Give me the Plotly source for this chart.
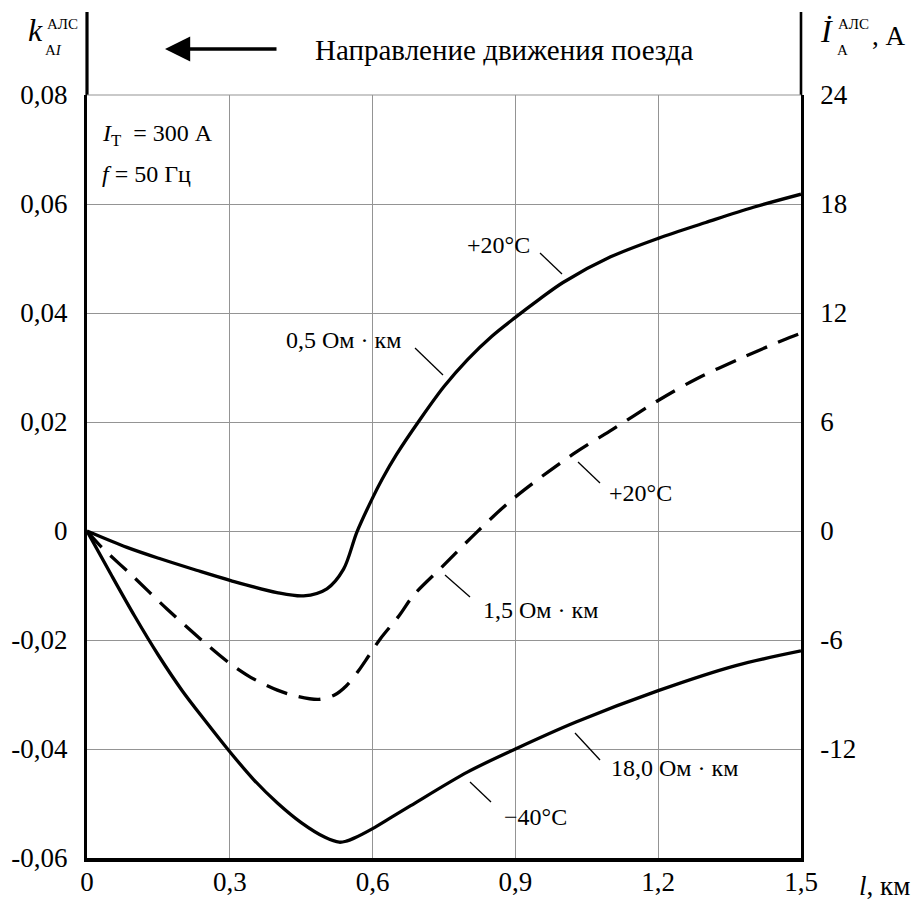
import plotly.graph_objects as go

# ---------------- data ----------------
dist_05 = [0, 0.084, 0.154, 0.23, 0.302, 0.399, 0.455, 0.504, 0.539, 0.567, 0.599,
           0.62, 0.65, 0.70, 0.75, 0.80, 0.85, 0.90, 0.95, 1.0, 1.1, 1.2, 1.3, 1.4, 1.5]
k_05 = [0, -0.0030, -0.0051, -0.0072, -0.0091, -0.0113, -0.0119, -0.0106, -0.0070, -0.0002, 0.0059,
        0.0095, 0.0140, 0.0205, 0.0265, 0.0315, 0.0357, 0.0392, 0.0425, 0.0456, 0.0503, 0.0537,
        0.0566, 0.0594, 0.0618]

dist_15 = [0, 0.03, 0.095, 0.168, 0.242, 0.30, 0.343, 0.40, 0.44, 0.487, 0.52, 0.545, 0.57,
           0.592, 0.616, 0.656, 0.685, 0.748, 0.819, 0.895, 1.021, 1.105, 1.199, 1.28, 1.371,
           1.462, 1.5]
k_15 = [0, -0.0029, -0.0082, -0.0143, -0.0201, -0.0243, -0.0268, -0.0292, -0.0303, -0.0309,
        -0.0301, -0.0284, -0.0257, -0.0229, -0.0198, -0.0155, -0.0119, -0.0064, -0.0002, 0.0059,
        0.0141, 0.0187, 0.0239, 0.0279, 0.0316, 0.0350, 0.0363]

dist_180 = [0, 0.05, 0.1, 0.15, 0.2, 0.25, 0.3, 0.35, 0.4, 0.45, 0.5, 0.53, 0.545, 0.56, 0.6,
            0.64, 0.68, 0.8, 0.9, 1.026, 1.2, 1.363, 1.5]
k_180 = [0, -0.0079, -0.0156, -0.0228, -0.0293, -0.0350, -0.0405, -0.0456, -0.0499, -0.0535,
         -0.0562, -0.0571, -0.0569, -0.0564, -0.0546, -0.0525, -0.0504, -0.0442, -0.0400,
         -0.0351, -0.0293, -0.0247, -0.0220]

x_ticks = [0, 0.3, 0.6, 0.9, 1.2, 1.5]
x_ticktext = ["0", "0,3", "0,6", "0,9", "1,2", "1,5"]
y_ticks = [-0.06, -0.04, -0.02, 0, 0.02, 0.04, 0.06, 0.08]
y_ticktext = ["-0,06", "-0,04", "-0,02", "0", "0,02", "0,04", "0,06", "0,08"]
y2_ticks = [-12, -6, 0, 6, 12, 18, 24]
y2_ticktext = ["-12", "-6", "0", "6", "12", "18", "24"]

# ---------------- layout helpers ----------------
W, H = 916, 900
PL, PR, PT, PB = 87, 801, 95, 858
FONT = "Liberation Serif, Times New Roman, serif"
GRID = "#949494"


def xp(px):
    return (px - PL) / (PR - PL)


def yp(py):
    return (PB - py) / (PB - PT)


fig = go.Figure()
fig.add_trace(go.Scatter(x=dist_05, y=k_05, mode="lines",
                         line=dict(color="black", width=3.3, shape="spline", smoothing=0.9)))
fig.add_trace(go.Scatter(x=dist_15, y=k_15, mode="lines",
                         line=dict(color="black", width=3.3, shape="spline", smoothing=0.9,
                                   dash="22px,12px")))
fig.add_trace(go.Scatter(x=dist_180, y=k_180, mode="lines",
                         line=dict(color="black", width=3.3, shape="spline", smoothing=0.9)))
# invisible trace to activate the right axis
fig.add_trace(go.Scatter(x=[0], y=[0], yaxis="y2", mode="markers",
                         marker=dict(opacity=0), hoverinfo="skip"))

fig.update_layout(
    width=W, height=H,
    margin=dict(l=PL, r=W - PR, t=PT, b=H - PB, pad=0, autoexpand=False),
    plot_bgcolor="white", paper_bgcolor="white",
    showlegend=False,
    font=dict(family=FONT, color="black"),
    xaxis=dict(range=[0, 1.5], tickvals=x_ticks, ticktext=x_ticktext, automargin=False,
               showgrid=True, gridcolor=GRID, gridwidth=1.2, zeroline=False,
               showline=True, linecolor="black", linewidth=3.5, ticks="",
               tickfont=dict(size=27, family=FONT), ticklabelstandoff=-3),
    yaxis=dict(range=[-0.06, 0.08], tickvals=y_ticks, ticktext=y_ticktext, automargin=False,
               showgrid=True, gridcolor=GRID, gridwidth=1.2, zeroline=False,
               showline=True, linecolor="black", linewidth=3.2, ticks="",
               tickfont=dict(size=27, family=FONT), ticklabelstandoff=11),
    yaxis2=dict(range=[-18, 24], tickvals=y2_ticks, ticktext=y2_ticktext, automargin=False,
                overlaying="y", side="right", showgrid=False, zeroline=False,
                showline=True, linecolor="black", linewidth=2.6, ticks="",
                tickfont=dict(size=27, family=FONT), ticklabelstandoff=11),
)

shapes = []
# axis extensions above 0.08
shapes.append(dict(type="line", xref="paper", yref="paper", x0=0, x1=0, y0=1, y1=yp(12),
                   line=dict(color="black", width=3.2)))
shapes.append(dict(type="line", xref="paper", yref="paper", x0=1, x1=1, y0=1, y1=yp(12),
                   line=dict(color="black", width=2.6)))
# top grid line at 0.08
shapes.append(dict(type="line", xref="paper", yref="paper", x0=0, x1=1, y0=1, y1=1,
                   line=dict(color=GRID, width=1.2)))

# leader lines (pixel positions)
leaders = [((540, 253), (562, 274)),
           ((415, 348), (443, 375)),
           ((578, 462), (600, 483)),
           ((445, 575), (470, 597)),
           ((575, 733), (600, 760)),
           ((470, 782), (491, 802))]
for (a, b) in leaders:
    shapes.append(dict(type="line", xref="paper", yref="paper",
                       x0=xp(a[0]), y0=yp(a[1]), x1=xp(b[0]), y1=yp(b[1]),
                       line=dict(color="black", width=1.3)))
fig.update_layout(shapes=shapes)

ann = []


def txt(text, px, py, size=24, xanchor="center"):
    ann.append(dict(text=text, x=xp(px), y=yp(py), xref="paper", yref="paper",
                    showarrow=False, xanchor=xanchor, yanchor="middle",
                    font=dict(size=size, family=FONT, color="black")))


# curve labels
txt("+20°C", 499, 245)
txt("0,5 Ом · км", 343, 340)
txt("+20°C", 640, 493)
txt("1,5 Ом · км", 540, 610)
txt("18,0 Ом · км", 674, 768)
txt("−40°C", 535, 817)

# inset parameters
txt("<i>I</i><sub>Т</sub>  = 300 А", 100, 135, size=24, xanchor="left")
txt("<i>f</i> = 50 Гц", 100, 174, size=24, xanchor="left")

# direction text + arrow
txt("Направление движения поезда", 313, 50, size=29, xanchor="left")
ann.append(dict(text="", x=xp(165), y=yp(49), xref="paper", yref="paper",
                showarrow=True, ax=113, ay=0, axref="pixel", ayref="pixel",
                arrowhead=2, arrowsize=1.4, arrowwidth=3.6, arrowcolor="black"))

# left axis title  k^АЛС_АI
txt("<i>k</i>", 35, 30, size=32)
txt("АЛС", 62, 24, size=15)
txt("А<i>I</i>", 53, 50, size=15)

# right axis title  İ^АЛС_А, А
txt("<i>İ</i>", 826, 31, size=32)
txt("АЛС", 853, 24, size=15)
txt("А", 842, 50, size=15)
txt(", А", 889, 36, size=27)

# x axis title
txt("<i>l</i>, км", 884, 886, size=27)

fig.update_layout(annotations=ann)
fig.write_html("out.html")
